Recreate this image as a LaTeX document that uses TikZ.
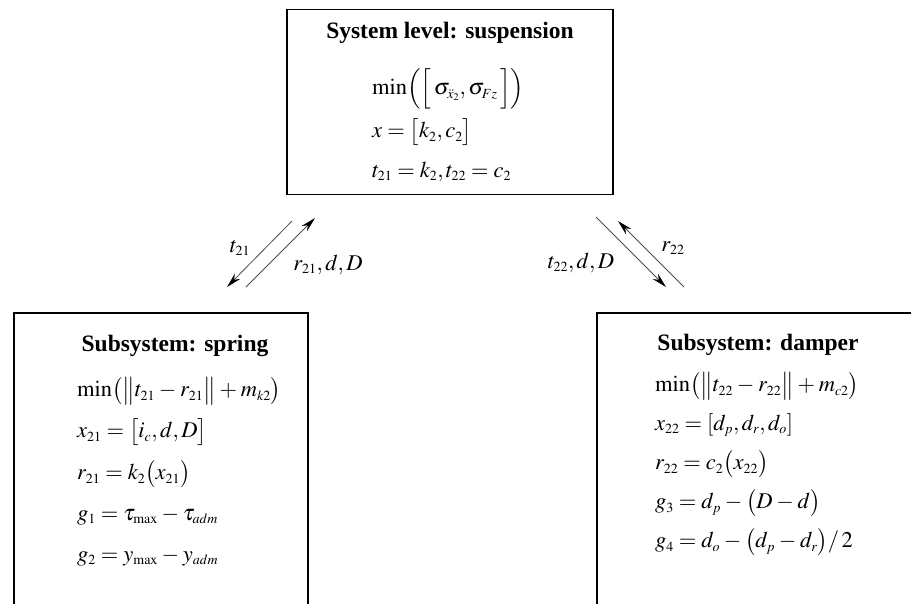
\documentclass[tikz,border=0pt]{standalone}
\usepackage{mathptmx}
\usepackage[no-math]{fontspec}
\setmainfont{Liberation Serif}
\usetikzlibrary{arrows.meta}
\renewcommand\defaultscriptratio{.62}
\renewcommand\defaultscriptscriptratio{.45}
\thickmuskip=4mu plus 2mu
\medmuskip=3mu plus 1mu
\begin{document}
\begin{tikzpicture}[x=1pt,y=-1pt,
  box/.style={draw, line width=1.8pt, inner sep=0pt},
  ttl/.style={inner sep=0pt, font=\fontsize{23.5}{28}\selectfont\bfseries},
  eq/.style={anchor=west, inner sep=0pt, font=\fontsize{22.5}{27}\selectfont},
  lab/.style={inner sep=0pt, font=\fontsize{22.5}{27}\selectfont},
  link/.style={draw=black!70, line width=0.8pt, -{Stealth[length=15pt,width=7.5pt,black]}}]
\useasboundingbox (0,0) rectangle (911,603);
% boxes
\node[box, minimum width=326pt, minimum height=185pt] (sys) at (450,102) {};
\node[box, minimum width=294pt, minimum height=330pt] (spring) at (161,478) {};
\node[box, minimum width=353pt, minimum height=330pt] (damper) at (773.5,478) {};
% system level
\node[ttl] (systitle) at (450,33) {System level: suspension};
\node[eq] (s1) at (372,89) {$\min\Bigl(\Bigl[\,\sigma_{\ddot{x}_2},\sigma_{Fz}\,\Bigr]\Bigr)$};
\node[eq] (s2) at (372,132) {$x=\bigl[k_2,c_2\bigr]$};
\node[eq] (s3) at (372,172) {$t_{21}=k_2,t_{22}=c_2$};
% spring
\node[ttl] (sptitle) at (175,346) {Subsystem: spring};
\node[eq] (p1) at (77,391) {$\min\bigl(\bigl\|t_{21}-r_{21}\bigr\|+m_{k2}\bigr)$};
\node[eq] (p2) at (77,432) {$x_{21}=\bigl[i_c,d,D\bigr]$};
\node[eq] (p3) at (77,474) {$r_{21}=k_2\bigl(x_{21}\bigr)$};
\node[eq] (p4) at (77,516) {$g_1=\tau_{\max}-\tau_{adm}$};
\node[eq] (p5) at (77,557) {$g_2=y_{\max}-y_{adm}$};
% damper
\node[ttl] (dptitle) at (758,345) {Subsystem: damper};
\node[eq] (d1) at (655,386) {$\min\bigl(\bigl\|t_{22}-r_{22}\bigr\|+m_{c2}\bigr)$};
\node[eq] (d2) at (655,425) {$x_{22}=[d_p,d_r,d_o]$};
\node[eq] (d3) at (655,464) {$r_{22}=c_2\bigl(x_{22}\bigr)$};
\node[eq] (d4) at (655,503) {$g_3=d_p-\bigl(D-d\bigr)$};
\node[eq] (d5) at (655,542) {$g_4=d_o-\bigl(d_p-d_r\bigr)/\,2$};
% connectors
\coordinate (a1s) at (292,221); \coordinate (a1e) at (227,287);
\coordinate (a2s) at (246,287); \coordinate (a2e) at (315,218);
\coordinate (a3s) at (596,217); \coordinate (a3e) at (666,287);
\coordinate (a4s) at (684,287); \coordinate (a4e) at (618,221);
\draw[link] (a1s) -- (a1e);
\draw[link] (a2s) -- (a2e);
\draw[link] (a3s) -- (a3e);
\draw[link] (a4s) -- (a4e);
\node[lab] (l1) at (240,248) {$t_{21}$};
\node[lab] (l2) at (328,265) {$r_{21},d,D$};
\node[lab] (l3) at (581,263) {$t_{22},d,D$};
\node[lab] (l4) at (673,248) {$r_{22}$};
\end{tikzpicture}
\end{document}
